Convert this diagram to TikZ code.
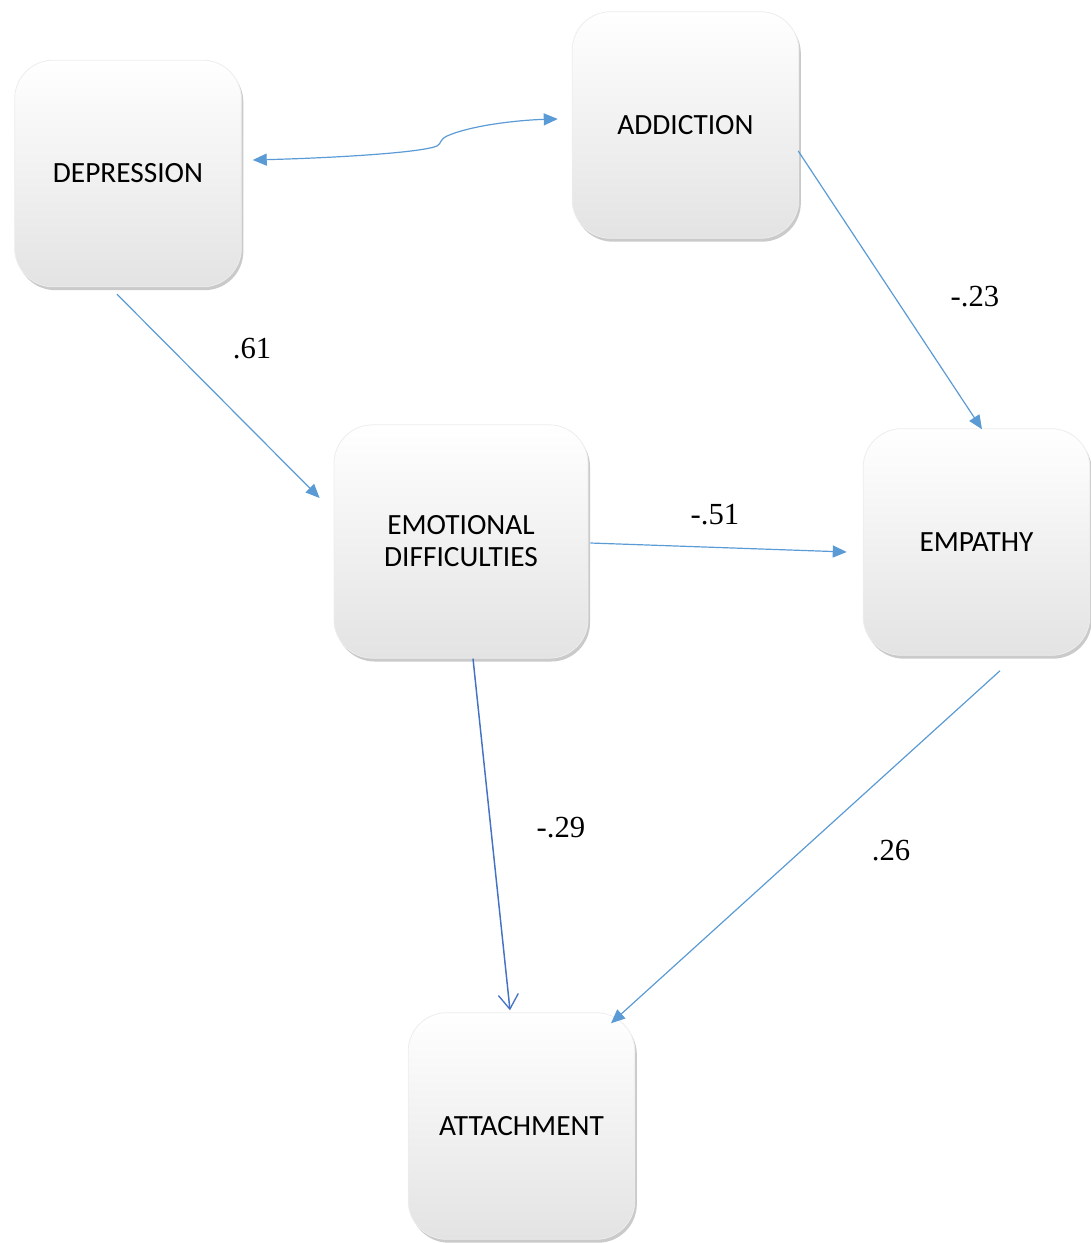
\documentclass[tikz,border=0pt]{standalone}
\usepackage{fontspec}
\setmainfont{Liberation Serif}
\newfontfamily\boxfont{Carlito}
\usepackage{tikz}
\usetikzlibrary{arrows.meta, positioning, shadows, calc}

\begin{document}
\begin{tikzpicture}[
    x=0.75pt, y=-0.75pt,
    every node/.style={align=center},
    varbox/.style={
      rectangle, rounded corners=29pt,
      minimum width=170pt, minimum height=170pt, inner sep=0pt,
      draw=black!7, line width=0.6pt,
      top color=white, middle color=white, bottom color=black!11,
      drop shadow={shadow xshift=1.5pt, shadow yshift=-2.5pt, opacity=0.35, fill=black!60},
      font=\boxfont\fontsize{22}{24}\selectfont
    },
    coef/.style={font=\fontsize{23}{25}\selectfont, text=black},
    arr/.style={-{Triangle[length=10.5pt, width=9pt]}, draw=lineBlue, line width=0.9pt},
    arrbi/.style={{Triangle[length=10.5pt, width=9pt]}-{Triangle[length=10.5pt, width=9pt]}, draw=lineBlue, line width=0.9pt},
    arropen/.style={-{Straight Barb[length=11pt, width=15pt, line width=1pt]}, draw=darkBlue, line width=1.1pt}
  ]
    \definecolor{lineBlue}{RGB}{91,155,213}
    \definecolor{darkBlue}{RGB}{68,114,196}

    \useasboundingbox (0,0) rectangle (1091,1243);

    % variables
    \node[varbox] (dep) at (128,173.5) {DEPRESSION};
    \node[varbox] (add) at (685.5,125) {ADDICTION};
    \node[varbox, minimum width=190.5pt, minimum height=175pt] (emo) at (461,541.5) {EMOTIONAL\\DIFFICULTIES};
    \node[varbox] (emp) at (976.5,542) {EMPATHY};
    \node[varbox] (att) at (521.5,1126) {ATTACHMENT};

    % paths
    \draw[arrbi] ([shift={(11,-13.5)}]dep.east)
      .. controls (330,158) and (420,153) .. (437,146)
      .. controls (442,143) and (439,140) .. (447,136)
      .. controls (472,125) and (520,120) .. ([shift={(-14,-6)}]add.west);
    \draw[arr] ([shift={(-11,7)}]dep.south) -- ([shift={(-14,-43.5)}]emo.west);
    \draw[arr] ([shift={(-1,26)}]add.east) -- ([shift={(5.5,1)}]emp.north);
    \draw[arr] ([shift={(2,1.5)}]emo.east) -- ([shift={(-16,10)}]emp.west);
    \draw[arropen] ([shift={(12,0)}]emo.south) -- ([shift={(-11.5,-2)}]att.north);
    \draw[arr] ([shift={(23.5,15)}]emp.south) -- ([shift={(89.5,11)}]att.north);

    % coefficients
    \node[coef] (c61) at (252,349) {.61};
    \node[coef] (c23) at (975,297) {-.23};
    \node[coef] (c51) at (715,515) {-.51};
    \node[coef] (c29) at (561,828) {-.29};
    \node[coef] (c26) at (891,851) {.26};
  \end{tikzpicture}
\end{document}
